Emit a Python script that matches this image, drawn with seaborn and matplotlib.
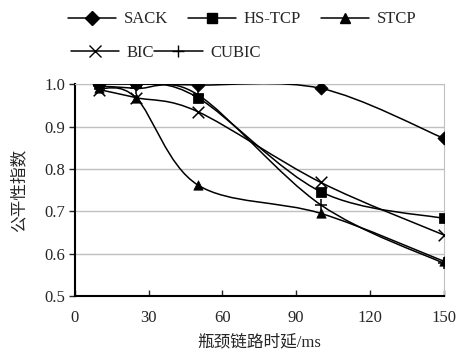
import matplotlib as mpl
import matplotlib.pyplot as plt
import numpy as np
import seaborn as sns
import pandas as pd
from matplotlib.path import Path
from matplotlib.patches import PathPatch
from matplotlib.lines import Line2D

# data
delay = [10, 25, 50, 100, 150]
sack = [1.0, 1.0, 0.998, 0.99, 0.872]
hstcp = [1.0, 1.003, 0.968, 0.746, 0.683]
stcp = [0.99, 0.967, 0.762, 0.695, 0.582]
bic = [0.987, 0.968, 0.935, 0.768, 0.644]
cubic = [0.995, 0.99, 0.975, 0.715, 0.577]

names = ["SACK", "HS-TCP", "STCP", "BIC", "CUBIC"]
series = [sack, hstcp, stcp, bic, cubic]
markers = ["D", "s", "^", "x", "+"]

sns.set_style("white")
plt.rcParams["font.family"] = ["Liberation Serif", "Noto Sans CJK SC"]
plt.rcParams["font.size"] = 12


def smooth_path(xs, ys):
  # Excel-like smoothed line: Catmull-Rom segments as cubic Bezier
  pts = np.column_stack([xs, ys]).astype(float)
  n = len(pts)
  verts = [pts[0]]
  codes = [Path.MOVETO]
  for i in range(n - 1):
    p0 = pts[max(i - 1, 0)]
    p1 = pts[i]
    p2 = pts[i + 1]
    p3 = pts[min(i + 2, n - 1)]
    c1 = p1 + (p2 - p0) / 6.0
    c2 = p2 - (p3 - p1) / 6.0
    verts += [c1, c2, p2]
    codes += [Path.CURVE4] * 3
  return Path(verts, codes)


fig = plt.figure(figsize=(4.59, 3.52), dpi=100)
ax = fig.add_axes([0.163, 0.159, 0.804, 0.602])

for name, vals, m in zip(names, series, markers):
  ax.add_patch(PathPatch(smooth_path(delay, vals), facecolor="none",
                         edgecolor="black", lw=1.1, zorder=3))
  df = pd.DataFrame({"delay": delay, "v": vals})
  if m in ("x", "+"):
    sns.scatterplot(data=df, x="delay", y="v", marker=m, color="black",
                    s=70, linewidth=1.1, ax=ax, zorder=4)
  else:
    sns.scatterplot(data=df, x="delay", y="v", marker=m, color="black",
                    s=45, edgecolor="black", ax=ax, zorder=4)

ax.set_xlim(0, 150)
ax.set_ylim(0.5, 1.0)
ax.set_xticks([0, 30, 60, 90, 120, 150])
ax.set_yticks([0.5, 0.6, 0.7, 0.8, 0.9, 1.0])
ax.set_yticklabels(["0.5", "0.6", "0.7", "0.8", "0.9", "1.0"])
ax.yaxis.grid(True, color="#c0c0c0", lw=1)
ax.set_axisbelow(True)

for s in ["top", "right"]:
  ax.spines[s].set_color("#c0c0c0")
for s in ["left", "bottom"]:
  ax.spines[s].set_color("black")
  ax.spines[s].set_linewidth(1.5)

ax.tick_params(axis="x", direction="in", length=4, width=1, pad=10)
ax.tick_params(axis="y", direction="out", length=4, width=1, pad=3)
ax.xaxis.set_ticks_position("bottom")
ax.yaxis.set_ticks_position("left")

ax.set_xlabel("瓶颈链路时延/ms", labelpad=6)
ax.set_ylabel("公平性指数", labelpad=12)

handles = [Line2D([], [], color="black", lw=1.1, marker=m,
                  markersize=8 if m in ("x", "+") else 7)
           for m in markers]
fig.legend(handles[:3], names[:3], loc="upper left", ncol=3, frameon=False,
           bbox_to_anchor=(0.115, 1.01), handlelength=2.9, columnspacing=1.2,
           handletextpad=0.45)
fig.legend(handles[3:], names[3:], loc="upper left", ncol=2, frameon=False,
           bbox_to_anchor=(0.122, 0.915), handlelength=2.9, columnspacing=0.0,
           handletextpad=0.45)

fig.savefig("out.png", dpi=100)
